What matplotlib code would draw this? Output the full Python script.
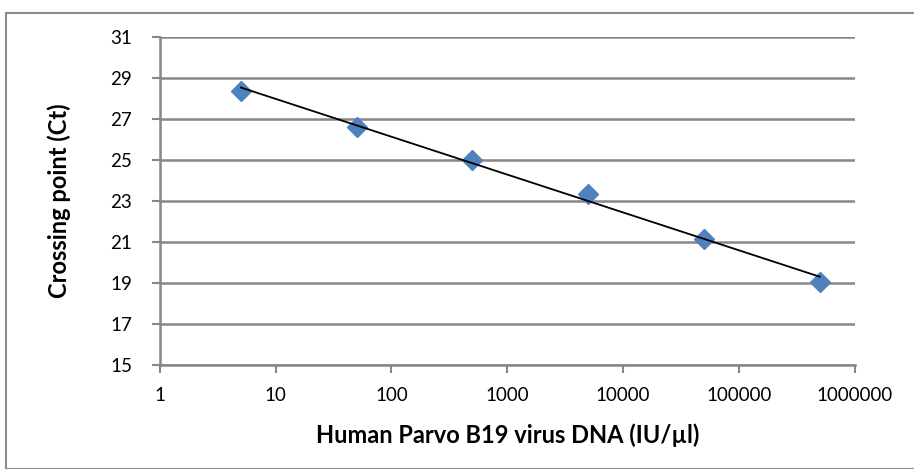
import numpy as np
import matplotlib.pyplot as plt
from matplotlib.patches import Rectangle

# standard curve data
conc = [5, 50, 500, 5000, 50000, 500000]
ct = [28.37, 26.61, 25.0, 23.34, 21.15, 19.05]
xticks = [1, 10, 100, 1000, 10000, 100000, 1000000]
yticks = [15, 17, 19, 21, 23, 25, 27, 29, 31]

plt.rcParams['font.family'] = ['Lato', 'DejaVu Sans']

fig = plt.figure(figsize=(9.14, 4.69), dpi=100)
ax = fig.add_axes([0.175, 0.222, 0.76, 0.699])

grid_col = '#878787'

# linear trendline on log10(x)
lx = np.log10(conc)
k, b = np.polyfit(lx, ct, 1)
xs = np.array([conc[0], conc[-1]])
ax.plot(xs, k * np.log10(xs) + b, color='black', lw=1.3, zorder=3)
ax.plot(conc, ct, 'D', color='#4F81BD', markersize=10, zorder=2)

ax.set_xscale('log')
ax.set_xlim(1, 1000000)
ax.set_ylim(15, 31)
ax.set_xticks(xticks)
ax.set_xticklabels([str(t) for t in xticks])
ax.minorticks_off()
ax.set_yticks(yticks)
ax.yaxis.grid(True, color=grid_col, lw=1.8)
ax.set_axisbelow(True)

for s in ['top', 'right']:
    ax.spines[s].set_visible(False)
for s in ['left', 'bottom']:
    ax.spines[s].set_color(grid_col)
    ax.spines[s].set_linewidth(1.8)
ax.tick_params(axis='both', colors=grid_col, width=1.5, length=6, labelsize=13.5,
               labelcolor='black')
ax.tick_params(axis='x', pad=10)
ax.tick_params(axis='y', pad=14)

ax.set_xlabel('Human Parvo B19 virus DNA (IU/\u00b5l)', fontsize=17, fontweight='bold',
              labelpad=14)
ax.set_ylabel('Crossing point (Ct)', fontsize=17, fontweight='bold', labelpad=28)

fig.patches.append(Rectangle((6 / 914, 0), 1.2, 1 - 13 / 469, transform=fig.transFigure,
                             fill=False, edgecolor='#8c8c8c', lw=1.5))

fig.savefig('out.png', dpi=100)
